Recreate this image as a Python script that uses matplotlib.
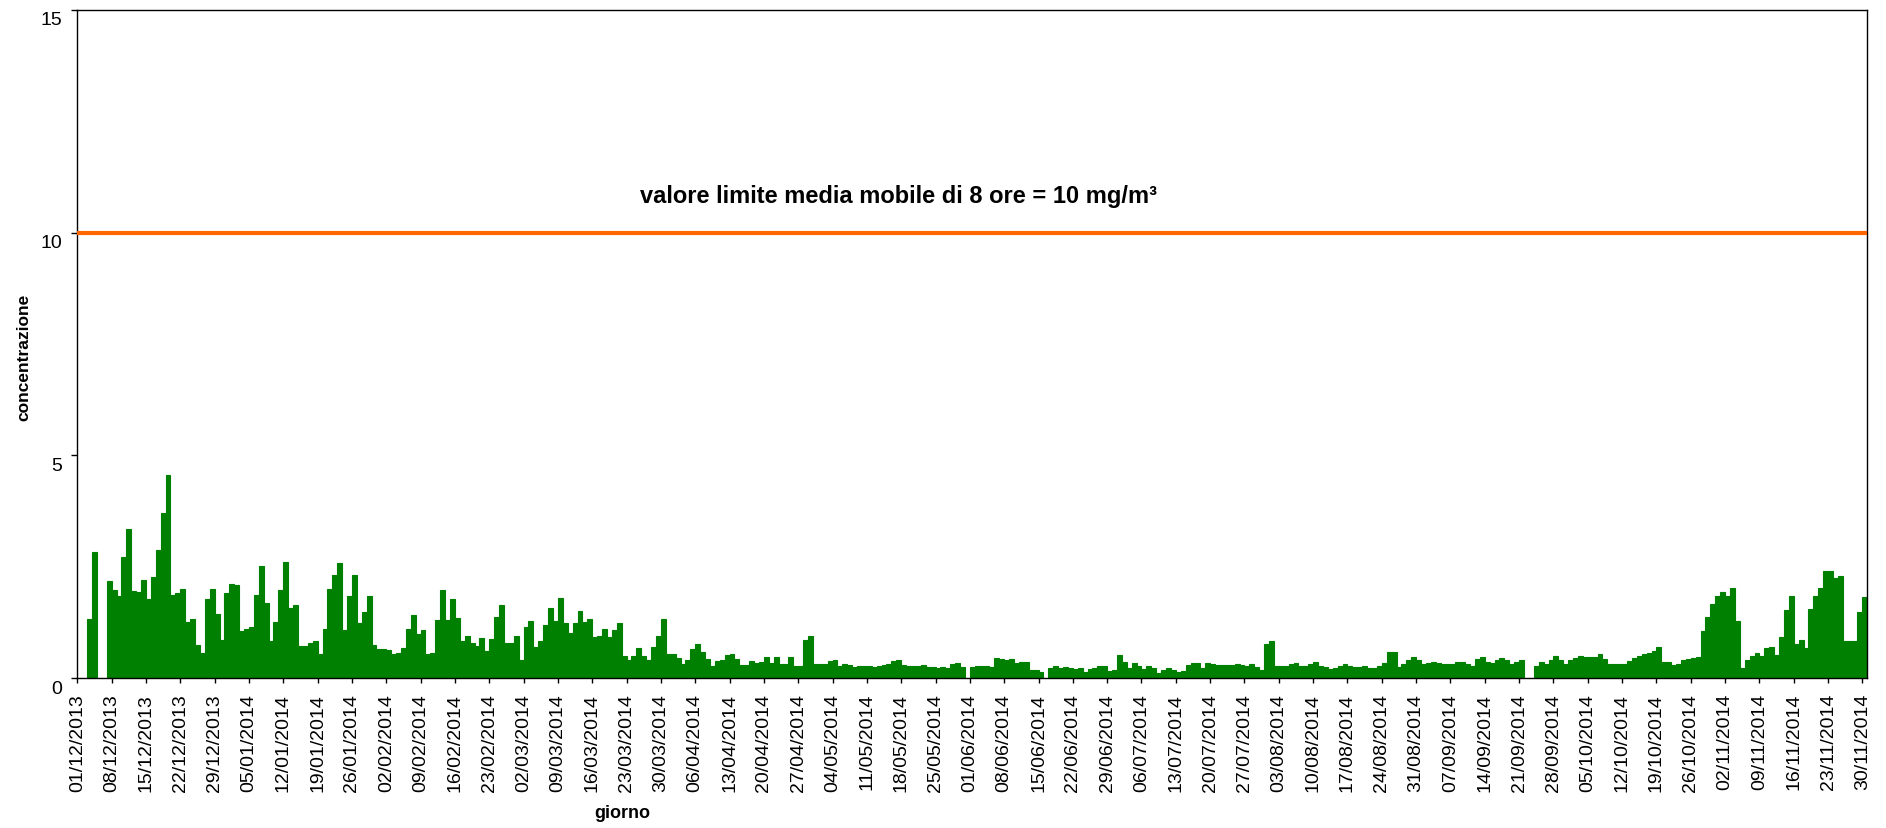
import numpy as np
import pandas as pd
import matplotlib
matplotlib.use("Agg")
import matplotlib.pyplot as plt
from matplotlib.transforms import ScaledTranslation

plt.rcParams["font.family"] = ["Liberation Sans", "DejaVu Sans"]

nan = np.nan

# Daily 8-hour moving-average maxima (mg/m3), 01/12/2013 - 30/11/2014; nan = no data
valori = [
    nan, nan, 1.33, 2.83, nan, nan, 2.19,
    1.99, 1.84, 2.73, 3.34, 1.95, 1.94, 2.20,
    1.79, 2.27, 2.87, 3.71, 4.56, 1.88, 1.92,
    2.00, 1.26, 1.33, 0.75, 0.56, 1.79, 2.00,
    1.44, 0.85, 1.91, 2.12, 2.10, 1.06, 1.11,
    1.16, 1.87, 2.53, 1.70, 0.83, 1.27, 1.97,
    2.62, 1.58, 1.65, 0.73, 0.73, 0.79, 0.84,
    0.54, 1.10, 2.00, 2.31, 2.59, 1.08, 1.85,
    2.32, 1.24, 1.49, 1.85, 0.75, 0.65, 0.66,
    0.64, 0.55, 0.57, 0.68, 1.10, 1.43, 1.00,
    1.09, 0.55, 0.57, 1.30, 1.99, 1.30, 1.77,
    1.35, 0.84, 0.95, 0.80, 0.72, 0.90, 0.61,
    0.88, 1.37, 1.65, 0.80, 0.80, 0.95, 0.42,
    1.15, 1.28, 0.71, 0.84, 1.20, 1.58, 1.29,
    1.80, 1.25, 1.02, 1.25, 1.52, 1.27, 1.33,
    0.93, 0.96, 1.11, 0.93, 1.08, 1.23, 0.50,
    0.42, 0.51, 0.68, 0.51, 0.40, 0.70, 0.96,
    1.32, 0.55, 0.55, 0.45, 0.33, 0.42, 0.65,
    0.78, 0.58, 0.43, 0.28, 0.39, 0.40, 0.52,
    0.54, 0.43, 0.30, 0.30, 0.39, 0.35, 0.36,
    0.47, 0.35, 0.47, 0.33, 0.33, 0.48, 0.28,
    0.28, 0.85, 0.94, 0.33, 0.31, 0.33, 0.38,
    0.41, 0.28, 0.33, 0.30, 0.25, 0.28, 0.27,
    0.27, 0.26, 0.28, 0.29, 0.31, 0.39, 0.40,
    0.29, 0.28, 0.28, 0.28, 0.29, 0.25, 0.26,
    0.22, 0.25, 0.24, 0.33, 0.34, 0.26, nan,
    0.26, 0.27, 0.28, 0.27, 0.25, 0.46, 0.43,
    0.40, 0.43, 0.34, 0.36, 0.36, 0.18, 0.19,
    0.15, nan, 0.22, 0.28, 0.24, 0.26, 0.22,
    0.21, 0.24, 0.15, 0.21, 0.23, 0.27, 0.27,
    0.16, 0.19, 0.52, 0.37, 0.24, 0.34, 0.28,
    0.21, 0.27, 0.23, 0.13, 0.19, 0.22, 0.19,
    0.15, 0.16, 0.30, 0.34, 0.34, 0.22, 0.34,
    0.32, 0.30, 0.30, 0.30, 0.30, 0.32, 0.30,
    0.27, 0.33, 0.25, 0.19, 0.78, 0.83, 0.28,
    0.27, 0.28, 0.32, 0.34, 0.28, 0.28, 0.32,
    0.37, 0.28, 0.25, 0.20, 0.24, 0.28, 0.32,
    0.28, 0.25, 0.25, 0.27, 0.24, 0.24, 0.28,
    0.34, 0.58, 0.58, 0.26, 0.33, 0.40, 0.47,
    0.40, 0.33, 0.35, 0.36, 0.35, 0.32, 0.32,
    0.33, 0.37, 0.37, 0.33, 0.28, 0.44, 0.47,
    0.37, 0.35, 0.42, 0.46, 0.42, 0.33, 0.37,
    0.41, nan, nan, 0.28, 0.37, 0.31, 0.40,
    0.49, 0.40, 0.32, 0.40, 0.46, 0.49, 0.47,
    0.48, 0.47, 0.54, 0.44, 0.32, 0.32, 0.32,
    0.33, 0.38, 0.46, 0.49, 0.54, 0.57, 0.61,
    0.71, 0.36, 0.36, 0.29, 0.32, 0.42, 0.43,
    0.46, 0.48, 1.05, 1.38, 1.66, 1.85, 1.94,
    1.85, 2.03, 1.29, 0.23, 0.41, 0.51, 0.56,
    0.51, 0.68, 0.70, 0.53, 0.92, 1.54, 1.85,
    0.78, 0.87, 0.68, 1.55, 1.85, 2.02, 2.40,
    2.41, 2.25, 2.30, 0.83, 0.84, 0.84, 1.49,
    1.82,
]

giorni = pd.date_range("2013-12-01", "2014-11-30", freq="D")
etichette = [d.strftime("%d/%m/%Y") for d in giorni[::7]]
posizioni_tick = list(range(0, len(giorni), 7))

valore_limite = 10
testo_limite = "valore limite media mobile di 8 ore = 10 mg/m\u00b3"
y_ticks = [0, 5, 10, 15]

W, H = 1886, 829
fig = plt.figure(figsize=(W / 100, H / 100), dpi=100)
ax = fig.add_axes([77.3 / W, 1 - 679.3 / H, (1867.3 - 77.3) / W, (679.3 - 10.7) / H])

x = np.arange(len(valori))
ax.bar(x, valori, width=1.0, align="edge", color="#008000",
       edgecolor="#008000", linewidth=0.8)

ax.axhline(valore_limite, color="#FF6600", lw=3, zorder=3)
ax.text(167.4, 10.695, testo_limite, ha="center", va="baseline",
        fontsize=17, fontweight="bold")

ax.set_xlim(0, len(valori))
ax.set_ylim(0, 15)
ax.set_yticks(y_ticks)
ax.set_yticklabels([str(v) for v in y_ticks])
ax.set_xticks(posizioni_tick)
ax.set_xticklabels(etichette, rotation=90)

ax.tick_params(axis="x", direction="out", length=3.6, width=1, pad=7, labelsize=14)
ax.tick_params(axis="y", direction="out", length=4, width=1, pad=7, labelsize=14)
for sp in ax.spines.values():
    sp.set_linewidth(1.0)
    sp.set_color("black")

shift = ScaledTranslation(0, -8 / 100, fig.dpi_scale_trans)
for lab in ax.get_yticklabels():
    lab.set_transform(lab.get_transform() + shift)

fig.text(24 / W, 1 - 357.8 / H, "concentrazione", rotation=90, ha="center",
         va="center", fontsize=12.5, fontweight="bold")
fig.text(622.5 / W, 1 - 814 / H, "giorno", ha="center", va="center",
         fontsize=13, fontweight="bold")

fig.savefig("out.png", dpi=100)
